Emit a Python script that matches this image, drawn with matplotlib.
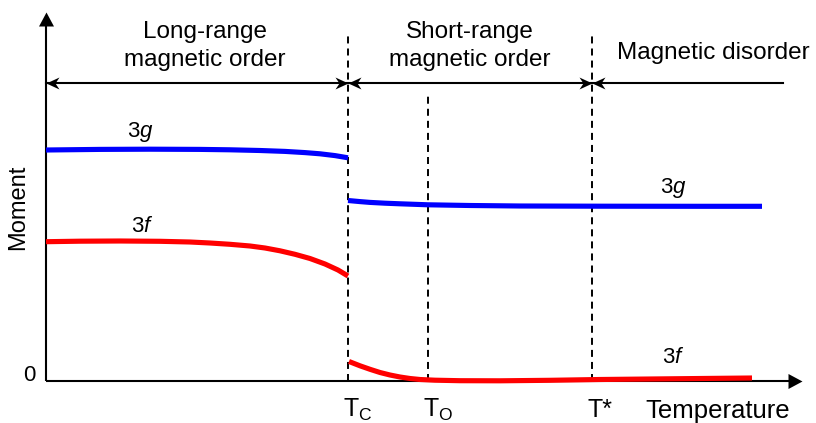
import numpy as np
import matplotlib
matplotlib.use("Agg")
import matplotlib.pyplot as plt
from matplotlib.path import Path

plt.rcParams["font.family"] = ["Liberation Sans", "DejaVu Sans"]
plt.rcParams["mathtext.fontset"] = "custom"
plt.rcParams["mathtext.rm"] = "Liberation Sans"
plt.rcParams["mathtext.it"] = "Liberation Sans:italic"

# ---- schematic data (temperature, moment) in arbitrary units ----
g_low_T = [0, 54, 104, 154, 184, 214, 239, 259, 274, 289, 302]
g_low_M = [231, 231.6, 231.8, 231.6, 231.2, 230.5, 229.6, 228.4, 227.2, 225.4, 223.2]
g_high_T = [302, 314, 324, 339, 354, 382, 424, 474, 554, 654, 716]
g_high_M = [180.5, 179.4, 178.6, 177.8, 177.2, 176.2, 175.5, 175, 174.8, 174.7, 174.7]

f_low_T = [0, 34, 74, 114, 144, 164, 184, 204, 219, 234, 249, 264, 279, 292, 302]
f_low_M = [139.3, 139.8, 140, 139.7, 139, 138, 136.7, 135, 133, 130.2, 126.7,
           122.5, 117, 111, 105]
f_high_T = [303, 314, 324, 334, 344, 354, 364, 374, 389, 414, 454, 504, 554, 604,
            654, 706]
f_high_M = [19.5, 15.2, 11.7, 8.5, 6, 4, 2.5, 1.5, 0.8, 0.3, 0.2, 0.7, 1.5, 2,
            2.5, 3]

# characteristic temperatures
T_C, T_O, T_STAR = 302, 382, 546
temp_labels = ["T$_\\mathrm{C}$", "T$_\\mathrm{O}$", "T*"]
temp_marks = [T_C, T_O, T_STAR]
mark_tops = [348, 287, 348]

# regime bands along the top
region_edges = [0, 302, 546, 737]
region_names = [["Long-range", "magnetic order"],
                ["Short-range", "magnetic order"],
                ["Magnetic disorder"]]

T_END, M_END = 756, 369   # axis arrow tips
BAND_M = 298.5

fig = plt.figure(figsize=(8.16, 4.23), dpi=100)
ax = fig.add_axes([0, 0, 1, 1])
ax.set_xlim(-46, 770)
ax.set_ylim(-42, 381)
ax.axis("off")

PX2PT = 72 / 100


def head_marker(kind, angle):
    if kind == "stealth":
        v = np.array([[0, 0], [-13, 6], [-9, 0], [-13, -6], [0, 0]], float)
    else:
        v = np.array([[0, 0], [-14, 7.5], [-14, -7.5], [0, 0]], float)
    a = np.deg2rad(angle)
    R = np.array([[np.cos(a), -np.sin(a)], [np.sin(a), np.cos(a)]])
    v = v @ R.T
    codes = [Path.MOVETO] + [Path.LINETO] * (len(v) - 2) + [Path.CLOSEPOLY]
    size = 2 * np.abs(v).max() * PX2PT
    return Path(v, codes), size


def draw_head(x, y, kind, angle):
    p, s = head_marker(kind, angle)
    ax.plot([x], [y], marker=p, markersize=s, color="black",
            markeredgewidth=0, linestyle="none", zorder=5)


# axes with arrows
ax.plot([0, T_END - 8], [0, 0], color="black", lw=1.5, zorder=2,
        solid_capstyle="butt")
ax.plot([0, 0], [0, M_END - 8], color="black", lw=1.5, zorder=2,
        solid_capstyle="butt")
draw_head(T_END, 0, "tri", 0)
draw_head(0, M_END, "tri", 90)

# dashed markers at characteristic temperatures
for t, top in zip(temp_marks, mark_tops):
    ax.plot([t, t], [0, top], color="black", lw=1.4,
            linestyle=(0, (3.6, 2.6)), zorder=1)

# regime bands with double-headed arrows
ax.plot([region_edges[0], region_edges[-1]], [BAND_M, BAND_M],
        color="black", lw=1.5, zorder=2)
for i in range(len(region_edges) - 1):
    draw_head(region_edges[i], BAND_M, "stealth", 180)
    if i < len(region_edges) - 2:
        draw_head(region_edges[i + 1], BAND_M, "stealth", 0)

# moment curves
lw = 3.7
curve_kw = dict(lw=lw, zorder=4, solid_capstyle="butt", solid_joinstyle="round")
ax.plot(g_low_T, g_low_M, color="#0000ff", **curve_kw)
ax.plot(g_high_T, g_high_M, color="#0000ff", **curve_kw)
ax.plot(f_low_T, f_low_M, color="#ff0000", **curve_kw)
ax.plot(f_high_T, f_high_M, color="#ff0000", **curve_kw)

# curve labels
lab = dict(fontsize=16, va="baseline", ha="left")
ax.text(81, 244.3, "3$g$", **lab)
ax.text(85, 149.3, "3$f$", **lab)
ax.text(614, 188, "3$g$", **lab)
ax.text(616, 18, "3$f$", **lab)

# regime titles
fs_top = 17.5
ax.text(159, 342.7, region_names[0][0], fontsize=fs_top, ha="center", va="baseline")
ax.text(159, 315.3, region_names[0][1], fontsize=fs_top, ha="center", va="baseline")
ax.text(424, 342.7, region_names[1][0], fontsize=fs_top, ha="center", va="baseline")
ax.text(424, 315.3, region_names[1][1], fontsize=fs_top, ha="center", va="baseline")
ax.text(667.5, 321.7, region_names[2][0], fontsize=fs_top, ha="center", va="baseline")

# axis annotations
fs_ax = 18
for t, s in zip(temp_marks, temp_labels):
    ax.text(t - 5, -36, s, fontsize=fs_ax, ha="left", va="baseline")
ax.text(599, -37, "Temperature", fontsize=18.5, ha="left", va="baseline")
ax.text(-28, 174, "Moment", fontsize=17, rotation=90, ha="center", va="center")
ax.text(-16.5, 5.5, "0", fontsize=16, ha="center", va="center")

fig.savefig("out.png", dpi=100)
